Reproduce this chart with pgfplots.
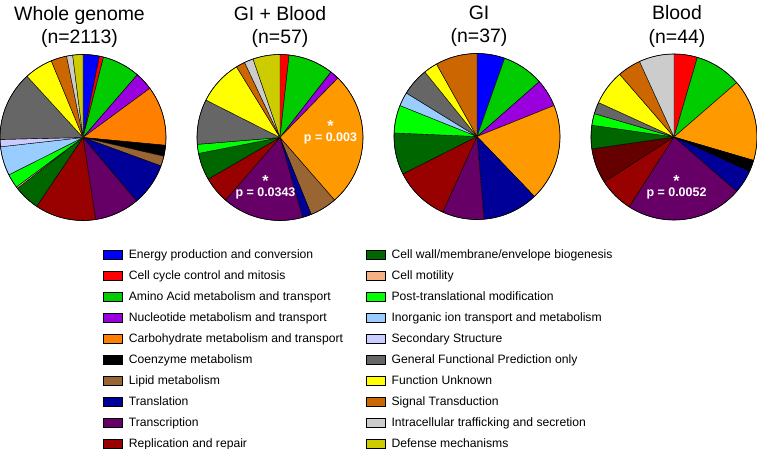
\documentclass[border=0pt]{standalone}
\usepackage{pgfplots}
\usepackage{pgfplotstable}
\pgfplotsset{compat=1.18}
\usepackage{fontspec}
\setmainfont{Liberation Sans}

\definecolor{cEnergy}{HTML}{0000FF}
\definecolor{cCycle}{HTML}{FF0000}
\definecolor{cAmino}{HTML}{00CC00}
\definecolor{cNucl}{HTML}{9900DD}
\definecolor{cCarb}{HTML}{FF8000}
\definecolor{cCarbB}{HTML}{FF9900}
\definecolor{cCoenz}{HTML}{000000}
\definecolor{cLipid}{HTML}{996633}
\definecolor{cTransl}{HTML}{000099}
\definecolor{cTranscr}{HTML}{660066}
\definecolor{cRepl}{HTML}{990000}
\definecolor{cMaroon}{HTML}{660000}
\definecolor{cWall}{HTML}{006600}
\definecolor{cMotil}{HTML}{F4B183}
\definecolor{cPost}{HTML}{00FF00}
\definecolor{cInorg}{HTML}{99CCFF}
\definecolor{cSecond}{HTML}{CCCCFF}
\definecolor{cGeneral}{HTML}{666666}
\definecolor{cUnknown}{HTML}{FFFF00}
\definecolor{cSignal}{HTML}{CC6600}
\definecolor{cIntra}{HTML}{CCCCCC}
\definecolor{cDefense}{HTML}{CCCC00}

% counts per category, clockwise from 12 o'clock
\pgfplotstableread{
n c
67 cEnergy
17 cCycle
156 cAmino
75 cNucl
245 cCarb
45 cCoenz
41 cLipid
175 cTransl
184 cTranscr
251 cRepl
107 cWall
7 cMotil
58 cPost
119 cInorg
30 cSecond
287 cGeneral
117 cUnknown
65 cSignal
25 cIntra
42 cDefense
}\wholegenome

\pgfplotstableread{
n c
1 cCycle
5 cAmino
1 cNucl
15 cCarbB
3 cLipid
1 cTransl
9 cTranscr
3 cRepl
3 cWall
1 cPost
5 cGeneral
5 cUnknown
1 cSignal
1 cIntra
3 cDefense
}\giblood

\pgfplotstableread{
n c
2 cEnergy
3 cAmino
2 cNucl
7 cCarbB
4 cTransl
3 cTranscr
4 cRepl
3 cWall
2 cPost
1 cInorg
2 cGeneral
1 cUnknown
3 cSignal
}\gi

\pgfplotstableread{
n c
2 cCycle
4 cAmino
7 cCarbB
1 cCoenz
2 cTransl
10 cTranscr
3 cRepl
3 cMaroon
2 cWall
1 cPost
1 cGeneral
3 cUnknown
2 cSignal
3 cIntra
}\blood

\newcommand{\drawpie}[1]{%
  \pgfplotstablegetrowsof{#1}%
  \pgfmathtruncatemacro{\pieLast}{\pgfplotsretval-1}%
  \def\pieTot{0}%
  \pgfplotsforeachungrouped \i in {0,...,\pieLast}{%
    \pgfplotstablegetelem{\i}{n}\of{#1}%
    \pgfmathsetmacro{\pieTot}{\pieTot+\pgfplotsretval}}%
  \def\pieCum{0}%
  \pgfplotsforeachungrouped \i in {0,...,\pieLast}{%
    \pgfplotstablegetelem{\i}{n}\of{#1}\let\pieV\pgfplotsretval
    \pgfplotstablegetelem{\i}{c}\of{#1}\let\pieC\pgfplotsretval
    \pgfmathsetmacro{\pieS}{90-360*(\pieCum/\pieTot)}%
    \pgfmathsetmacro{\pieCum}{\pieCum+\pieV}%
    \pgfmathsetmacro{\pieE}{90-360*(\pieCum/\pieTot)}%
    \edef\temp{\noexpand\filldraw[fill=\pieC, draw=black, line width=0.4pt]
      (axis cs:0,0) -- (axis cs:{cos(\pieS)},{sin(\pieS)})
      arc[start angle=\pieS, end angle=\pieE, radius=1] -- cycle;}%
    \temp}%
  \draw[line width=0.6pt] (axis cs:0,0) circle[radius=1];
}

\pgfplotsset{
  pie/.style={hide axis, clip=false, x=83bp, y=83bp,
    xmin=-1, xmax=1, ymin=-1, ymax=1, anchor=center,
    title style={at={(0.5,1)}, anchor=south, yshift=0.5bp, inner sep=0pt,
      align=center, font=\fontsize{19.5}{23.4}\selectfont}},
}
\tikzset{
  pval/.style={text=white, font=\bfseries\fontsize{12.5}{10.5}\selectfont,
    anchor=south, inner sep=0pt, align=center},
}
\newcommand{\pstar}{{\fontsize{16}{10.5}\selectfont *}}

\begin{document}
\begin{tikzpicture}
\path[use as bounding box] (0,0) rectangle (757bp,-449bp);

\begin{axis}[pie, at={(83bp,-137.5bp)}, title={Whole genome\\(n=2113)}, title style={xshift=-3.5bp}]
\drawpie{\wholegenome}
\end{axis}

\begin{axis}[pie, at={(280bp,-137.5bp)}, title={GI + Blood\\(n=57)}]
\drawpie{\giblood}
\node[pval] at (axis cs:0.608,-0.086) {\pstar\\p = 0.003};
\node[pval] at (axis cs:-0.175,-0.748) {\pstar\\p = 0.0343};
\end{axis}

\begin{axis}[pie, at={(477bp,-136.5bp)}, title={GI\\(n=37)}, title style={xshift=2bp}]
\drawpie{\gi}
\end{axis}

\begin{axis}[pie, at={(674bp,-137bp)}, title={Blood\\(n=44)}, title style={xshift=3bp}]
\drawpie{\blood}
\node[pval] at (axis cs:0.030,-0.754) {\pstar\\p = 0.0052};
\end{axis}

\begin{axis}[hide axis, x=1bp, y=1bp, xmin=0, xmax=757, ymin=0, ymax=449,
  at={(0,-449bp)}, anchor=south west,
  legend columns=2, legend cell align=left,
  legend image code/.code={\draw[#1, draw=black, line width=0.6pt] (0bp,-4.5bp) rectangle (19bp,4.5bp);},
  legend style={at={(0.1361,0.4454)}, anchor=north west, draw=none, fill=none,
    inner sep=0pt, font=\fontsize{12.2}{14}\selectfont, row sep=9bp,
    nodes={inner sep=0pt, text height=9bp, text depth=3bp},
    /tikz/every odd column/.append style={column sep=6bp},
    /tikz/every even column/.append style={column sep=23bp}},
]
\addlegendimage{fill=cEnergy}\addlegendentry{Energy production and conversion}
\addlegendimage{fill=cWall}\addlegendentry{Cell wall/membrane/envelope biogenesis}
\addlegendimage{fill=cCycle}\addlegendentry{Cell cycle control and mitosis}
\addlegendimage{fill=cMotil}\addlegendentry{Cell motility}
\addlegendimage{fill=cAmino}\addlegendentry{Amino Acid metabolism and transport}
\addlegendimage{fill=cPost}\addlegendentry{Post-translational modification}
\addlegendimage{fill=cNucl}\addlegendentry{Nucleotide metabolism and transport}
\addlegendimage{fill=cInorg}\addlegendentry{Inorganic ion transport and metabolism}
\addlegendimage{fill=cCarb}\addlegendentry{Carbohydrate metabolism and transport}
\addlegendimage{fill=cSecond}\addlegendentry{Secondary Structure}
\addlegendimage{fill=cCoenz}\addlegendentry{Coenzyme metabolism}
\addlegendimage{fill=cGeneral}\addlegendentry{General Functional Prediction only}
\addlegendimage{fill=cLipid}\addlegendentry{Lipid metabolism}
\addlegendimage{fill=cUnknown}\addlegendentry{Function Unknown}
\addlegendimage{fill=cTransl}\addlegendentry{Translation}
\addlegendimage{fill=cSignal}\addlegendentry{Signal Transduction}
\addlegendimage{fill=cTranscr}\addlegendentry{Transcription}
\addlegendimage{fill=cIntra}\addlegendentry{Intracellular trafficking and secretion}
\addlegendimage{fill=cRepl}\addlegendentry{Replication and repair}
\addlegendimage{fill=cDefense}\addlegendentry{Defense mechanisms}
\end{axis}
\end{tikzpicture}
\end{document}
